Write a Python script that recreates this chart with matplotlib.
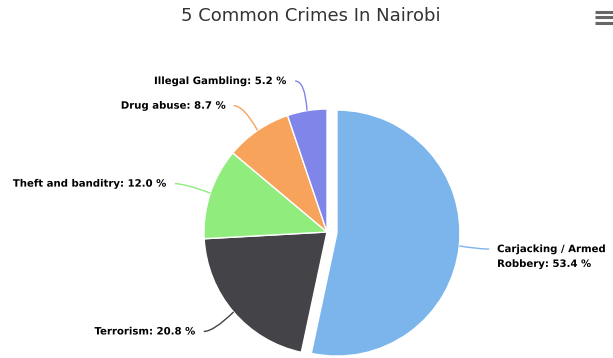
import numpy as np
import matplotlib
matplotlib.use("Agg")
import matplotlib.pyplot as plt
import matplotlib.patheffects as pe
from matplotlib.path import Path
from matplotlib.patches import PathPatch

# crime shares (percent), drawn clockwise from 12 o'clock
crimes = ["Carjacking / Armed\nRobbery", "Terrorism", "Theft and banditry",
          "Drug abuse", "Illegal Gambling"]
shares = [53.4, 20.8, 12.0, 8.7, 5.2]
colors = ["#7cb5ec", "#434348", "#90ed7d", "#f7a35c", "#8085e9"]
sliced = [True, False, False, False, False]

W, H = 613, 358
cx, cy, radius = 327, H - 232, 123
slice_offset = 10
label_distance = 30

fig = plt.figure(figsize=(W / 100, H / 100), dpi=100)
ax = fig.add_axes([0, 0, 1, 1])

explode = [slice_offset if s else 0 for s in sliced]
ax.pie(shares, colors=colors, startangle=90, counterclock=False,
       center=(cx, cy), radius=radius, explode=explode,
       wedgeprops=dict(linewidth=1, edgecolor="white"))

# pie() resets the limits, so pin the pixel frame afterwards
ax.set_xlim(0, W)
ax.set_ylim(0, H)
ax.set_aspect("equal")
ax.axis("off")

# data labels with curved connectors
total = sum(shares)
start = 0.0
for name, val, col, s in zip(crimes, shares, colors, sliced):
    mid = (start + val / 2) / total * 2 * np.pi  # clockwise from top
    start += val
    dx, dy = np.sin(mid), np.cos(mid)
    ox = cx + (slice_offset * dx if s else 0)
    oy = cy + (slice_offset * dy if s else 0)
    ex, ey = ox + radius * dx, oy + radius * dy
    lx, ly = ox + (radius + label_distance) * dx, oy + (radius + label_distance) * dy
    side = 1 if dx > 0 else -1
    end_x = lx - (0 if side > 0 else 7)
    ctrl = (end_x - side * 10, ly)
    conn = Path([(end_x, ly), ctrl, (ex, ey)],
                [Path.MOVETO, Path.CURVE3, Path.CURVE3])
    ax.add_patch(PathPatch(conn, facecolor="none", edgecolor=col, lw=1))
    tx = end_x + side * 8
    txt = f"{name}: {val:.1f} %"
    va = "top" if "\n" in name else "center"
    ty = ly + 5 if "\n" in name else ly
    ax.text(tx, ty, txt, ha="left" if side > 0 else "right", va=va,
            fontsize=7.3, fontweight="bold", color="black", linespacing=1.6,
            path_effects=[pe.withStroke(linewidth=1.5, foreground="white")])

# title
fig.text(311 / W, 1 - 16 / H, "5 Common Crimes In Nairobi", ha="center",
         va="center", fontsize=13, color="#333333")

# context menu icon
for yy in (12, 17, 22.5):
    ax.plot([595, 613], [H - yy, H - yy], color="#666666", lw=2.2,
            solid_capstyle="butt")

fig.savefig("out.png", dpi=100, facecolor="white")
